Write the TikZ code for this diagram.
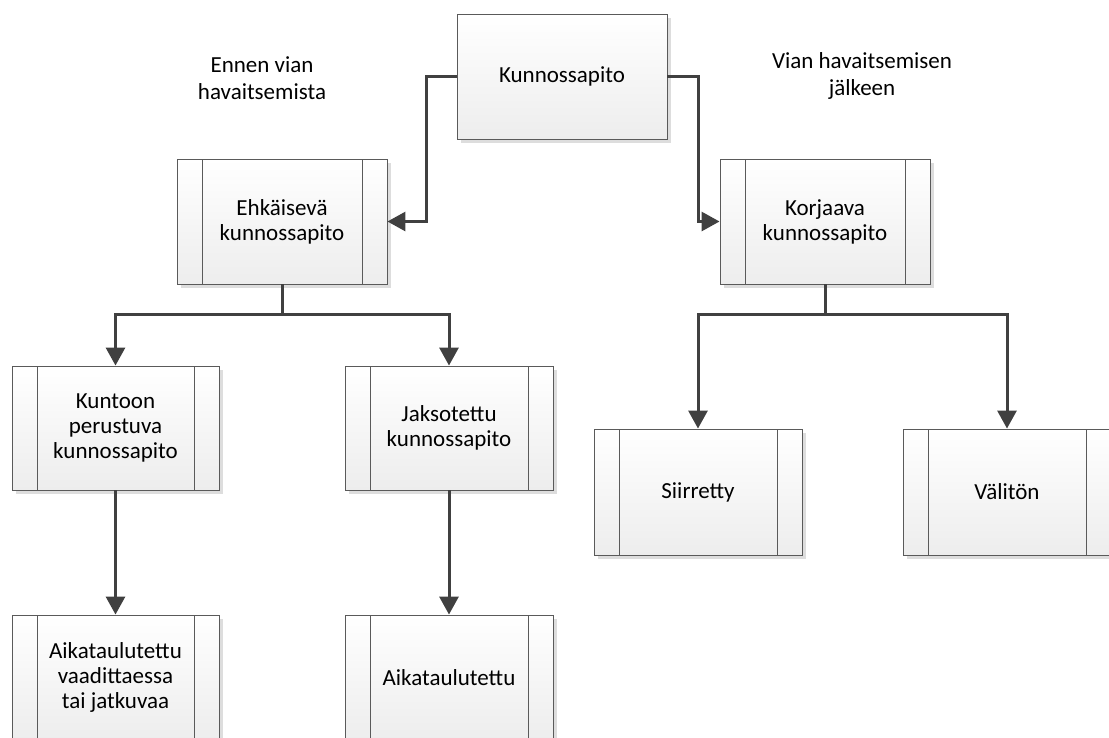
\documentclass[tikz,border=0pt]{standalone}
\usepackage{fontspec}
\setmainfont{Carlito}
\usetikzlibrary{arrows.meta,shadows}
\definecolor{linkcol}{HTML}{404040}
\definecolor{edgecol}{HTML}{5A5A5A}
\definecolor{shadecol}{HTML}{EDEDED}
\definecolor{shadowcol}{HTML}{DDDDDD}
\tikzset{
  boxbase/.style={draw=edgecol, line width=0.9pt, top color=white, bottom color=shadecol,
    drop shadow={shadow xshift=4pt, shadow yshift=-4pt, fill=shadowcol, opacity=1},
    align=center, inner sep=0pt, text=black,
    font=\fontsize{23}{25}\selectfont},
  plainbox/.style={boxbase, minimum width=#1, minimum height=125pt},
  procbox/.style n args={2}{boxbase, minimum width=#1, minimum height=#2,
    path picture={
      \draw[edgecol, line width=0.9pt]
        ([xshift=25pt]path picture bounding box.north west) -- ([xshift=25pt]path picture bounding box.south west)
        ([xshift=-25pt]path picture bounding box.north east) -- ([xshift=-25pt]path picture bounding box.south east);
    }},
  link/.style={draw=linkcol, line width=3pt, line join=miter,
    -{Triangle[width=19pt,length=18pt]}},
  note/.style={align=center, font=\fontsize{23}{27}\selectfont}
}
\begin{document}
\begin{tikzpicture}[x=1pt,y=-1pt]
\useasboundingbox (0,0) rectangle (1109,737);
\clip (0,0) rectangle (1109,737);

% boxes
\node[plainbox=210pt] (top) at (562,76.5) {Kunnossapito};
\node[procbox={210pt}{125pt}] (ehk) at (282,221.5) {Ehkäisevä\\kunnossapito};
\node[procbox={210pt}{125pt}] (korj) at (825,221.5) {Korjaava\\kunnossapito};
\node[procbox={207pt}{124pt}] (kunt) at (115.5,428) {Kuntoon\\perustuva\\kunnossapito};
\node[procbox={208pt}{124pt}] (jaks) at (449,428) {Jaksotettu\\kunnossapito};
\node[procbox={208pt}{126pt}] (siir) at (698,492) {Siirretty};
\node[procbox={208pt}{126pt}] (vali) at (1007,492) {Välitön};
\node[procbox={207pt}{125pt}] (aik1) at (115.5,677.5) {Aikataulutettu\\vaadittaessa\\tai jatkuvaa};
\node[procbox={208pt}{125pt}] (aik2) at (449,677.5) {Aikataulutettu};

% side notes
\node[note] (before) at (262,78) {Ennen vian\\havaitsemista};
\node[note] (after) at (862,76) {Vian havaitsemisen\\jälkeen};

% connectors
\draw[link] (top.west) -- ++(-30,0) |- (ehk.east);
\draw[link] (top.east) -- ++(31,0) |- (korj.west);
\draw[link] (ehk.south) -- ++(0,30) -| (kunt.north);
\draw[link] (ehk.south) -- ++(0,30) -| (jaks.north);
\draw[link] (korj.south) -- ++(0,30) -| (siir.north);
\draw[link] (korj.south) -- ++(0,30) -| (vali.north);
\draw[link] (kunt.south) -- (aik1.north);
\draw[link] (jaks.south) -- (aik2.north);
\end{tikzpicture}
\end{document}
